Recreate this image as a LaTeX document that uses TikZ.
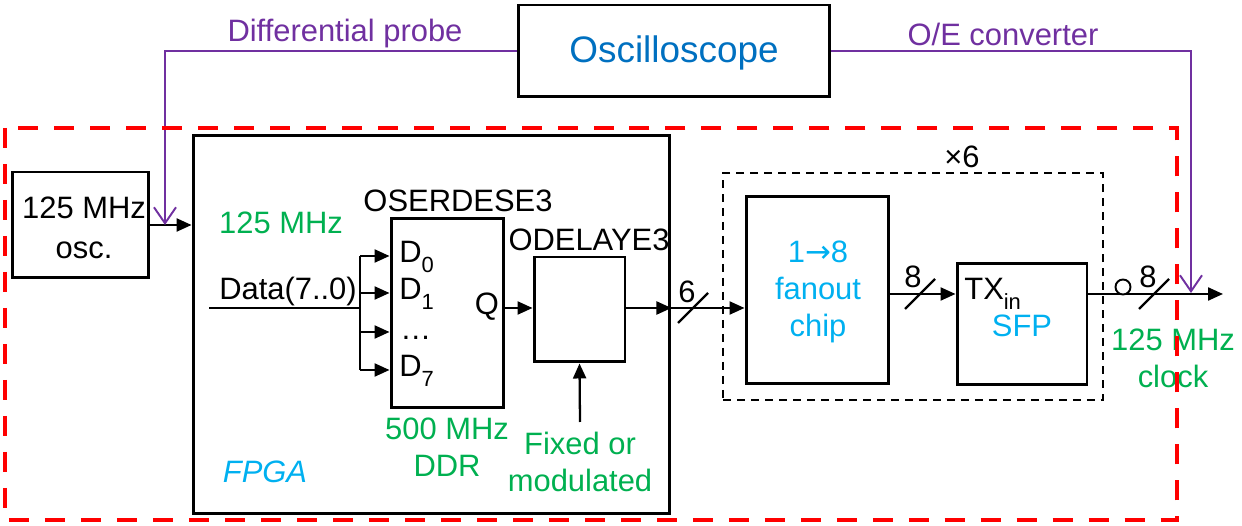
\documentclass[tikz,border=0pt]{standalone}
\usepackage{fontspec}
\setmainfont{Liberation Sans}
\newfontfamily\djv{DejaVu Sans}
\usetikzlibrary{arrows.meta,positioning}
\definecolor{cpurple}{HTML}{7030A0}
\definecolor{cgreen}{HTML}{00B050}
\definecolor{ccyan}{HTML}{00B0F0}
\definecolor{cblue}{HTML}{0070C0}
\definecolor{cred}{HTML}{FF0000}
\newcommand{\lowsub}[1]{\raisebox{-0.3em}{\fontsize{12.5}{14}\selectfont #1}}
\tikzset{
  blk/.style={draw=black,line width=1.7pt,rectangle,inner sep=0pt,fill=none},
  arr/.style={line width=1.3pt,-{Triangle[length=0.3cm,width=0.26cm]}},
  wire/.style={line width=1.3pt},
  prb/.style={draw=cpurple,line width=1.1pt},
  parr/.style={prb,-{Straight Barb[length=0.32cm,width=0.44cm,line width=1.1pt]}},
  txt/.style={font=\fontsize{17.6}{21}\selectfont,inner sep=0pt,align=center},
  gtxt/.style={txt,text=cgreen},
  ctxt/.style={txt,text=ccyan},
  ptxt/.style={txt,text=cpurple},
}
\begin{document}
\begin{tikzpicture}[x=0.02cm,y=-0.02cm]
\useasboundingbox (0,0) rectangle (1242,526);
% boxes
\node[blk,minimum width=6.24cm,minimum height=1.84cm] (scope) at (674,51) {};
\node[txt,text=cblue,font=\fontsize{21}{25}\selectfont] (scopet) at (674,53) {Oscilloscope};
\node[blk,minimum width=2.74cm,minimum height=2.12cm] (osc) at (80.5,225) {};
\node[txt,font=\fontsize{17.6}{22.5}\selectfont] (osct) at (84,228) {125 MHz\\osc.};
\node[blk,minimum width=9.54cm,minimum height=7.58cm] (fpga) at (431.5,324.5) {};
\node[blk,minimum width=2.26cm,minimum height=3.8cm] (oser) at (447.5,313) {};
\node[blk,minimum width=1.82cm,minimum height=2.1cm] (odel) at (579.5,309.5) {};
\node[draw=black,line width=1.1pt,dash pattern=on 0.16cm off 0.12cm,minimum width=7.6cm,minimum height=4.54cm,inner sep=0pt] (grp) at (913,286.5) {};
\node[blk,minimum width=2.86cm,minimum height=3.76cm] (fan) at (817.5,290) {};
\node[blk,minimum width=2.6cm,minimum height=2.44cm] (tx) at (1022,324) {};

% texts
\node[txt] (oserl) at (458,201) {OSERDESE3};
\node[txt] (odell) at (589,240) {ODELAYE3};
\node[gtxt] (clk1) at (281,223) {125 MHz};
\node[txt] (datal) at (288,292) {Data(7..0)};
\node[txt,anchor=base west] (d0) at (399,263) {D\lowsub{0}};
\node[txt,anchor=base west] (d1) at (399,300) {D\lowsub{1}};
\node[txt,anchor=base west] (dd) at (400,340) {…};
\node[txt,anchor=base west] (d7) at (399,377) {D\lowsub{7}};
\node[txt] (ql) at (487,307) {Q};
\node[gtxt] (ddr) at (447,447) {500 MHz\\DDR};
\node[gtxt] (fixl) at (580,462) {Fixed or\\modulated};
\node[ctxt,font=\fontsize{17.6}{21}\selectfont\itshape] (fpgal) at (265,472) {FPGA};
\node[txt] (x6) at (962,157) {×6};
\node[ctxt] (fant) at (818,292) {1{\djv →}8\\fanout\\chip};
\node[txt,anchor=base west] (txin) at (964,300) {TX\lowsub{in}};
\node[ctxt] (sfp) at (1022,326) {SFP};
\node[gtxt] (clk2) at (1173,358) {125 MHz\\clock};
\node[ptxt] (dpl) at (345,34) {Differential probe};
\node[ptxt] (oel) at (1003,34) {O/E converter};
\node[txt] (n6) at (687,292) {6};
\node[txt] (n8a) at (913,277) {8};
\node[txt] (n8b) at (1148,277) {8};

% coordinates
\coordinate (q) at (0,308);
\coordinate (r8) at (0,294);
\coordinate (dstart) at (209,308);
\coordinate (bm) at (360,308);
\coordinate (b0) at (360,256);
\coordinate (b1) at (360,293);
\coordinate (b2) at (360,332);
\coordinate (b3) at (360,370);
\coordinate (fixtail) at (580,422);
\coordinate (outend) at (1223,294);
\coordinate (ptl) at (165,225);
\coordinate (ptr) at (1191,293);
\coordinate (s6) at (693,308);
\coordinate (s8a) at (920,294);
\coordinate (s8b) at (1154,294);

% connectors
\draw[arr] (osc.east) -- (fpga.west |- osc.east);
\draw[wire] (dstart) -- (bm);
\draw[wire] (b0) -- (b3);
\draw[arr] (b0) -- (b0 -| oser.west);
\draw[arr] (b1) -- (b1 -| oser.west);
\draw[arr] (b2) -- (b2 -| oser.west);
\draw[arr] (b3) -- (b3 -| oser.west);
\draw[arr] (oser.east |- q) -- (odel.west |- q);
\draw[arr] (odel.east |- q) -- (fpga.east |- q);
\draw[arr] (fpga.east |- q) -- (fan.west |- q);
\draw[arr] (fixtail) -- (odel.south);
\draw[arr] (fan.east |- r8) -- (tx.west |- r8);
\draw[arr] (tx.east |- r8) -- (outend);
\node[circle,draw,line width=1.1pt,minimum size=0.3cm,inner sep=0pt,fill=white] (ring) at (1123,287) {};
\draw[wire] (s6) ++(-15,15) -- ++(30,-30);
\draw[wire] (s8a) ++(-15,15) -- ++(30,-30);
\draw[wire] (s8b) ++(-15,15) -- ++(30,-30);

% probes
\draw[parr] (scope.west) -| (ptl);
\draw[parr] (scope.east) -| (ptr);

% red dashed boundary
\draw[draw=cred,line width=2.8pt,dash pattern=on 0.4cm off 0.32cm] (5,128) rectangle (1177,520);
\end{tikzpicture}
\end{document}
